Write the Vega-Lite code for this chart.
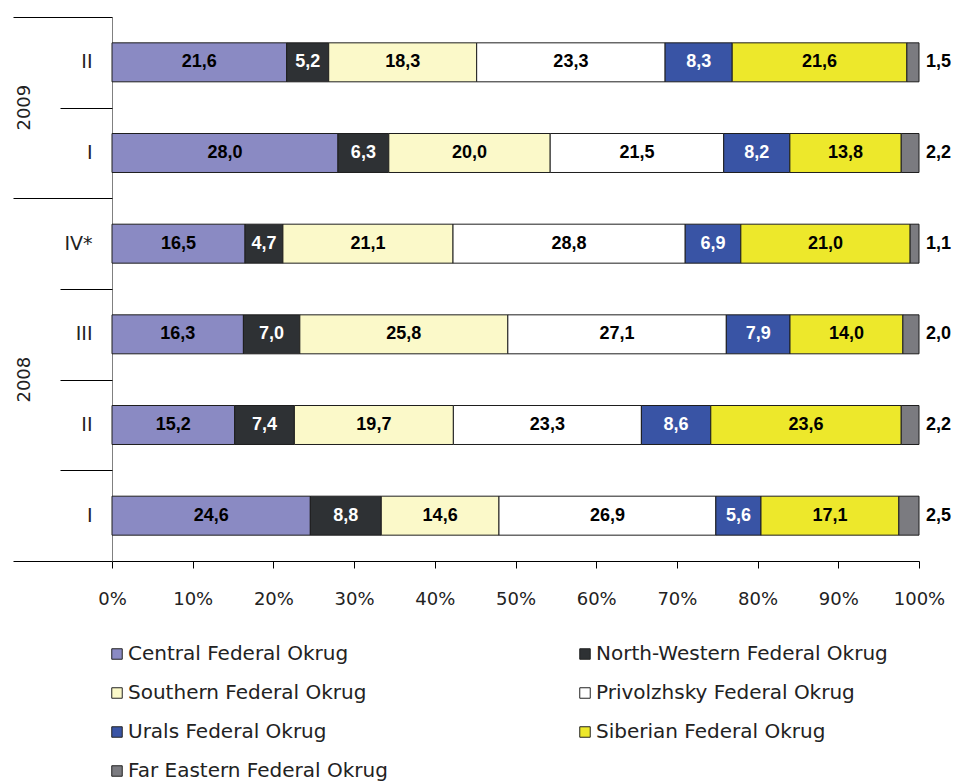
{
  "$schema": "https://vega.github.io/schema/vega-lite/v6.json",
  "width": 807,
  "height": 544,
  "autosize": {"type": "none"},
  "padding": {"left": 112, "top": 17, "right": 36, "bottom": 222},
  "config": {
    "locale": {"number": {"decimal": ",", "thousands": " ", "grouping": [3], "currency": ["", ""]}},
    "view": {"stroke": null},
    "axis": {"grid": false, "labelFont": "DejaVu Sans", "labelFontSize": 18, "labelColor": "#222222"},
    "legend": {
      "orient": "none",
      "legendX": -5,
      "legendY": 627,
      "columns": 2,
      "direction": "horizontal",
      "gridAlign": "all",
      "columnPadding": 155,
      "rowPadding": 19,
      "padding": 0,
      "symbolType": "square",
      "symbolSize": 110,
      "symbolStrokeColor": "#222222",
      "symbolStrokeWidth": 1,
      "labelFont": "DejaVu Sans",
      "labelFontSize": 20,
      "labelColor": "#222222",
      "labelOffset": 1,
      "labelLimit": 500
    }
  },
  "data": {
    "values": [
      {"period": "2009 II", "region": "Central Federal Okrug", "share": 21.6},
      {"period": "2009 II", "region": "North-Western Federal Okrug", "share": 5.2},
      {"period": "2009 II", "region": "Southern Federal Okrug", "share": 18.3},
      {"period": "2009 II", "region": "Privolzhsky Federal Okrug", "share": 23.3},
      {"period": "2009 II", "region": "Urals Federal Okrug", "share": 8.3},
      {"period": "2009 II", "region": "Siberian Federal Okrug", "share": 21.6},
      {"period": "2009 II", "region": "Far Eastern Federal Okrug", "share": 1.5},
      {"period": "2009 I", "region": "Central Federal Okrug", "share": 28.0},
      {"period": "2009 I", "region": "North-Western Federal Okrug", "share": 6.3},
      {"period": "2009 I", "region": "Southern Federal Okrug", "share": 20.0},
      {"period": "2009 I", "region": "Privolzhsky Federal Okrug", "share": 21.5},
      {"period": "2009 I", "region": "Urals Federal Okrug", "share": 8.2},
      {"period": "2009 I", "region": "Siberian Federal Okrug", "share": 13.8},
      {"period": "2009 I", "region": "Far Eastern Federal Okrug", "share": 2.2},
      {"period": "2008 IV*", "region": "Central Federal Okrug", "share": 16.5},
      {"period": "2008 IV*", "region": "North-Western Federal Okrug", "share": 4.7},
      {"period": "2008 IV*", "region": "Southern Federal Okrug", "share": 21.1},
      {"period": "2008 IV*", "region": "Privolzhsky Federal Okrug", "share": 28.8},
      {"period": "2008 IV*", "region": "Urals Federal Okrug", "share": 6.9},
      {"period": "2008 IV*", "region": "Siberian Federal Okrug", "share": 21.0},
      {"period": "2008 IV*", "region": "Far Eastern Federal Okrug", "share": 1.1},
      {"period": "2008 III", "region": "Central Federal Okrug", "share": 16.3},
      {"period": "2008 III", "region": "North-Western Federal Okrug", "share": 7.0},
      {"period": "2008 III", "region": "Southern Federal Okrug", "share": 25.8},
      {"period": "2008 III", "region": "Privolzhsky Federal Okrug", "share": 27.1},
      {"period": "2008 III", "region": "Urals Federal Okrug", "share": 7.9},
      {"period": "2008 III", "region": "Siberian Federal Okrug", "share": 14.0},
      {"period": "2008 III", "region": "Far Eastern Federal Okrug", "share": 2.0},
      {"period": "2008 II", "region": "Central Federal Okrug", "share": 15.2},
      {"period": "2008 II", "region": "North-Western Federal Okrug", "share": 7.4},
      {"period": "2008 II", "region": "Southern Federal Okrug", "share": 19.7},
      {"period": "2008 II", "region": "Privolzhsky Federal Okrug", "share": 23.3},
      {"period": "2008 II", "region": "Urals Federal Okrug", "share": 8.6},
      {"period": "2008 II", "region": "Siberian Federal Okrug", "share": 23.6},
      {"period": "2008 II", "region": "Far Eastern Federal Okrug", "share": 2.2},
      {"period": "2008 I", "region": "Central Federal Okrug", "share": 24.6},
      {"period": "2008 I", "region": "North-Western Federal Okrug", "share": 8.8},
      {"period": "2008 I", "region": "Southern Federal Okrug", "share": 14.6},
      {"period": "2008 I", "region": "Privolzhsky Federal Okrug", "share": 26.9},
      {"period": "2008 I", "region": "Urals Federal Okrug", "share": 5.6},
      {"period": "2008 I", "region": "Siberian Federal Okrug", "share": 17.1},
      {"period": "2008 I", "region": "Far Eastern Federal Okrug", "share": 2.5}
    ]
  },
  "transform": [
    {"window": [{"op": "row_number", "as": "idx"}], "groupby": ["period"]},
    {"stack": "share", "groupby": ["period"], "sort": [{"field": "idx"}], "offset": "normalize", "as": ["s0", "s1"]},
    {"calculate": "(datum.s0 + datum.s1) / 2", "as": "mid"}
  ],
  "resolve": {"axis": {"y": "independent"}},
  "layer": [
    {
      "mark": {"type": "bar", "height": {"band": 0.43}, "stroke": "#1e1e1e", "strokeWidth": 1},
      "encoding": {
        "y": {
          "field": "period", "type": "nominal", "title": null,
          "sort": ["2009 II", "2009 I", "2008 IV*", "2008 III", "2008 II", "2008 I"],
          "scale": {"paddingInner": 0, "paddingOuter": 0},
          "axis": {"orient": "left", "ticks": false, "domainColor": "#808080", "labelPadding": 20, "labelFontSize": 19, "labelExpr": "substring(datum.label, 5)"}
        },
        "x": {
          "field": "s0", "type": "quantitative", "title": null,
          "scale": {"domain": [0, 1], "nice": false},
          "axis": {"format": ".0%", "values": [0, 0.1, 0.2, 0.3, 0.4, 0.5, 0.6, 0.7, 0.8, 0.9, 1], "labelFlush": false, "tickSize": 7, "tickColor": "#000000", "domainColor": "#000000", "labelPadding": 22}
        },
        "x2": {"field": "s1"},
        "color": {
          "field": "region", "type": "nominal", "title": null,
          "scale": {
            "domain": ["Central Federal Okrug", "North-Western Federal Okrug", "Southern Federal Okrug", "Privolzhsky Federal Okrug", "Urals Federal Okrug", "Siberian Federal Okrug", "Far Eastern Federal Okrug"],
            "range": ["#8a8ac3", "#2e3134", "#fbf9c9", "#ffffff", "#3954a5", "#ede82b", "#7b7b80"]
          }
        }
      }
    },
    {
      "transform": [{"filter": "datum.region !== 'Far Eastern Federal Okrug'"}],
      "mark": {"type": "text", "font": "Liberation Sans", "fontWeight": "bold", "fontSize": 18},
      "encoding": {
        "y": {
          "field": "period", "type": "nominal", "title": null,
          "sort": ["2009 II", "2009 I", "2008 IV*", "2008 III", "2008 II", "2008 I"],
          "axis": {
            "orient": "left", "labels": false, "domain": false, "tickBand": "extent", "tickColor": "#000000",
            "tickSize": {"condition": {"test": "datum.extra || datum.index < 0 || datum.value === '2009 I' || datum.value === '2008 I'", "value": 99}, "value": 52}
          }
        },
        "x": {
          "field": "mid", "type": "quantitative", "title": null,
          "axis": {"format": ".0%", "values": [0, 0.1, 0.2, 0.3, 0.4, 0.5, 0.6, 0.7, 0.8, 0.9, 1], "labelFlush": false, "tickSize": 7, "tickColor": "#000000", "domainColor": "#000000", "labelPadding": 22}
        },
        "text": {"field": "share", "type": "quantitative", "format": ".1f"},
        "color": {
          "condition": {"test": "datum.region === 'North-Western Federal Okrug' || datum.region === 'Urals Federal Okrug'", "value": "#ffffff"},
          "value": "#000000"
        }
      }
    },
    {
      "transform": [{"filter": "datum.region === 'Far Eastern Federal Okrug'"}],
      "mark": {"type": "text", "font": "Liberation Sans", "fontWeight": "bold", "fontSize": 18, "align": "left", "dx": 7, "color": "#000000"},
      "encoding": {
        "y": {
          "field": "period", "type": "nominal", "title": null,
          "sort": ["2009 II", "2009 I", "2008 IV*", "2008 III", "2008 II", "2008 I"],
          "axis": {
            "orient": "left", "ticks": false, "domain": false,
            "values": ["2009 II", "2008 III"],
            "labelExpr": "substring(datum.label, 0, 4)",
            "labelAngle": 270, "labelOffset": 45.3, "labelPadding": 79, "labelBaseline": "bottom", "labelAlign": "center"
          }
        },
        "x": {
          "field": "s1", "type": "quantitative", "title": null,
          "axis": {"format": ".0%", "values": [0, 0.1, 0.2, 0.3, 0.4, 0.5, 0.6, 0.7, 0.8, 0.9, 1], "labelFlush": false, "tickSize": 7, "tickColor": "#000000", "domainColor": "#000000", "labelPadding": 22}
        },
        "text": {"field": "share", "type": "quantitative", "format": ".1f"}
      }
    }
  ]
}
